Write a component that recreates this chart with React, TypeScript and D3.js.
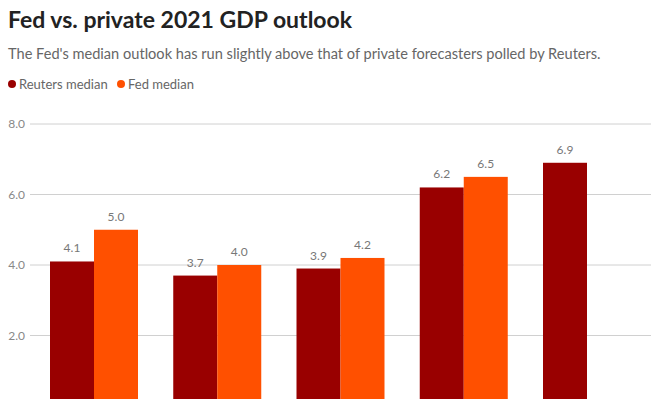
import React from "react";
import * as d3 from "d3";

// forecast rounds (their axis labels fall below the cropped picture)
const categories = ["June 2020", "Sept 2020", "Dec 2020", "March 2021", "June 2021"];
const seriesNames = ["Reuters median", "Fed median"];
const reutersValues = [4.1, 3.7, 3.9, 6.2, 6.9];
const fedValues: (number | null)[] = [5.0, 4.0, 4.2, 6.5, null];
const yTicks = [2, 4, 6, 8];

const colors = ["#990000", "#ff5000"];
const FONT = "Lato, 'Open Sans', sans-serif";

const App = () => {
  const width = 651;
  const height = 399;

  const x0 = d3.scaleBand<string>().domain(categories).range([50, 631]).paddingInner(0.286).paddingOuter(0);
  const x1 = d3.scaleBand<string>().domain(seriesNames).range([0, x0.bandwidth()]).padding(0);
  const y = d3.scaleLinear().domain([0, 8]).range([406, 124]);

  const rows = categories.map((c, i) => ({
    category: c,
    values: [reutersValues[i], fedValues[i]],
  }));

  return (
    <svg
      width={width}
      height={height}
      style={{ position: "absolute", left: 0, top: 0, background: "#fff" }}
      fontFamily={FONT}
    >
      <text x={8} y={28} fontSize={23} fontWeight={700} fill="#222">
        Fed vs. private 2021 GDP outlook
      </text>
      <text x={8} y={59} fontSize={14.6} fill="#666">
        The Fed's median outlook has run slightly above that of private forecasters polled by Reuters.
      </text>

      {/* legend */}
      <g>
        <circle cx={12} cy={84} r={4} fill={colors[0]} />
        <text x={19} y={89} fontSize={13} fill="#666">{seriesNames[0]}</text>
        <circle cx={121} cy={84} r={4} fill={colors[1]} />
        <text x={128} y={89} fontSize={13} fill="#666">{seriesNames[1]}</text>
      </g>

      {/* grid */}
      {yTicks.map((t) => (
        <g key={t}>
          <line x1={30} x2={width} y1={y(t)} y2={y(t)} stroke="#d0d0d0" strokeWidth={1} />
          <text x={25} y={y(t) + 4} textAnchor="end" fontSize={12} fill="#888">
            {d3.format(".1f")(t)}
          </text>
        </g>
      ))}

      {/* bars */}
      {rows.map((r) => (
        <g key={r.category} transform={`translate(${x0(r.category)},0)`}>
          {r.values.map((v, j) =>
            v == null ? null : (
              <g key={j}>
                <rect
                  x={x1(seriesNames[j])}
                  y={y(v)}
                  width={x1.bandwidth()}
                  height={y(0) - y(v)}
                  fill={colors[j]}
                />
                <text
                  x={(x1(seriesNames[j]) || 0) + x1.bandwidth() / 2}
                  y={y(v) - 9}
                  textAnchor="middle"
                  fontSize={12}
                  fill="#777"
                >
                  {d3.format(".1f")(v)}
                </text>
              </g>
            )
          )}
        </g>
      ))}
    </svg>
  );
};

export default App;
